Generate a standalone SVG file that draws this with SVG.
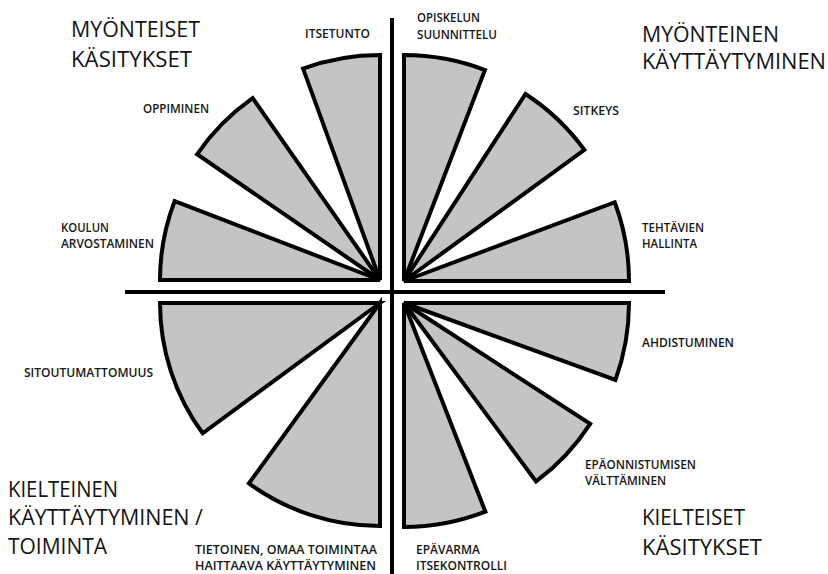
<svg xmlns="http://www.w3.org/2000/svg" width="828" height="574" viewBox="0 0 828 574">
  <style>
    .wedge { fill: #c4c4c4; stroke: #000; stroke-width: 4; stroke-linejoin: miter; stroke-miterlimit: 4; }
    .axis { stroke: #000; stroke-width: 4; fill: none; }
    .lbl { font-family: "Open Sans", "Liberation Sans", sans-serif; font-size: 12px; font-weight: 600; fill: #151515; }
    .title { font-family: "Open Sans", "Liberation Sans", sans-serif; font-size: 21px; font-weight: 400; fill: #151515; }
  </style>
  <rect width="828" height="574" fill="#fff"/>

  <g id="axes">
    <line class="axis" x1="392" y1="18" x2="392" y2="574"/>
    <line class="axis" x1="125" y1="292" x2="665" y2="292"/>
  </g>

  <g id="connectors"></g>

  <!-- quadrant titles -->
  <g id="title-myonteiset-kasitykset">
    <text class="title" x="71" y="37" textLength="129" lengthAdjust="spacingAndGlyphs">MYÖNTEISET</text>
    <text class="title" x="71" y="67" textLength="121" lengthAdjust="spacingAndGlyphs">KÄSITYKSET</text>
  </g>
  <g id="title-myonteinen-kayttaytyminen">
    <text class="title" x="642" y="42" textLength="137" lengthAdjust="spacingAndGlyphs">MYÖNTEINEN</text>
    <text class="title" x="642" y="69" textLength="184" lengthAdjust="spacingAndGlyphs">KÄYTTÄYTYMINEN</text>
  </g>
  <g id="title-kielteinen-kayttaytyminen">
    <text class="title" x="8" y="497" textLength="110" lengthAdjust="spacingAndGlyphs">KIELTEINEN</text>
    <text class="title" x="8" y="525" textLength="195" lengthAdjust="spacingAndGlyphs">KÄYTTÄYTYMINEN /</text>
    <text class="title" x="8" y="554" textLength="99" lengthAdjust="spacingAndGlyphs">TOIMINTA</text>
  </g>
  <g id="title-kielteiset-kasitykset">
    <text class="title" x="642" y="525" textLength="103" lengthAdjust="spacingAndGlyphs">KIELTEISET</text>
    <text class="title" x="642" y="555" textLength="120" lengthAdjust="spacingAndGlyphs">KÄSITYKSET</text>
  </g>

  <!-- upper-left quadrant -->
  <g id="itsetunto">
    <path class="wedge" d="M380,280 L303.05,68.57 A225,225 0 0 1 380,55 Z"/>
    <text class="lbl" x="305" y="38" textLength="65" lengthAdjust="spacingAndGlyphs">ITSETUNTO</text>
  </g>
  <g id="oppiminen">
    <path class="wedge" d="M380,280 L197.04,154.26 A222,222 0 0 1 252.67,98.15 Z"/>
    <text class="lbl" x="143" y="113" textLength="66" lengthAdjust="spacingAndGlyphs">OPPIMINEN</text>
  </g>
  <g id="koulun-arvostaminen">
    <path class="wedge" d="M380,280 L160,280 A220,220 0 0 1 174.61,201.16 Z"/>
    <text class="lbl" x="61" y="232" textLength="48" lengthAdjust="spacingAndGlyphs">KOULUN</text>
    <text class="lbl" x="61" y="248" textLength="93" lengthAdjust="spacingAndGlyphs">ARVOSTAMINEN</text>
  </g>

  <!-- upper-right quadrant -->
  <g id="opiskelun-suunnittelu">
    <path class="wedge" d="M404,281 L404,55 A226,226 0 0 1 484.99,70.01 Z"/>
    <text class="lbl" x="417" y="22" textLength="63" lengthAdjust="spacingAndGlyphs">OPISKELUN</text>
    <text class="lbl" x="417" y="39" textLength="80" lengthAdjust="spacingAndGlyphs">SUUNNITTELU</text>
  </g>
  <g id="sitkeys">
    <path class="wedge" d="M404,281 L525.45,93.98 A223,223 0 0 1 584.41,149.92 Z"/>
    <text class="lbl" x="573" y="115" textLength="46" lengthAdjust="spacingAndGlyphs">SITKEYS</text>
  </g>
  <g id="tehtavien-hallinta">
    <path class="wedge" d="M404,281 L614.75,202.2 A225,225 0 0 1 629,281 Z"/>
    <text class="lbl" x="642" y="232" textLength="62" lengthAdjust="spacingAndGlyphs">TEHTÄVIEN</text>
    <text class="lbl" x="642" y="248" textLength="55" lengthAdjust="spacingAndGlyphs">HALLINTA</text>
  </g>

  <!-- lower-right quadrant -->
  <g id="ahdistuminen">
    <path class="wedge" d="M404,303 L629,303 A225,225 0 0 1 615.43,379.95 Z"/>
    <text class="lbl" x="642" y="347" textLength="92" lengthAdjust="spacingAndGlyphs">AHDISTUMINEN</text>
  </g>
  <g id="epaonnistumisen-valttaminen">
    <path class="wedge" d="M404,303 L590.18,423.91 A222,222 0 0 1 536.05,481.46 Z"/>
    <text class="lbl" x="585" y="469" textLength="111" lengthAdjust="spacingAndGlyphs">EPÄONNISTUMISEN</text>
    <text class="lbl" x="585" y="485" textLength="81" lengthAdjust="spacingAndGlyphs">VÄLTTÄMINEN</text>
  </g>
  <g id="epavarma-itsekontrolli">
    <path class="wedge" d="M404,303 L485.37,511.7 A224,224 0 0 1 404,527 Z"/>
    <text class="lbl" x="416" y="554" textLength="64" lengthAdjust="spacingAndGlyphs">EPÄVARMA</text>
    <text class="lbl" x="416" y="570" textLength="91" lengthAdjust="spacingAndGlyphs">ITSEKONTROLLI</text>
  </g>

  <!-- lower-left quadrant -->
  <g id="sitoutumattomuus">
    <path class="wedge" d="M380,303 L202.7,433.24 A220,220 0 0 1 160,303 Z"/>
    <text class="lbl" x="24" y="377" textLength="129" lengthAdjust="spacingAndGlyphs">SITOUTUMATTOMUUS</text>
  </g>
  <g id="tietoinen-haittaava">
    <path class="wedge" d="M380,303 L380,526 A223,223 0 0 1 248.92,483.41 Z"/>
    <text class="lbl" x="195" y="554" textLength="182" lengthAdjust="spacingAndGlyphs">TIETOINEN, OMAA TOIMINTAA</text>
    <text class="lbl" x="195" y="570" textLength="181" lengthAdjust="spacingAndGlyphs">HAITTAAVA KÄYTTÄYTYMINEN</text>
  </g>
</svg>
